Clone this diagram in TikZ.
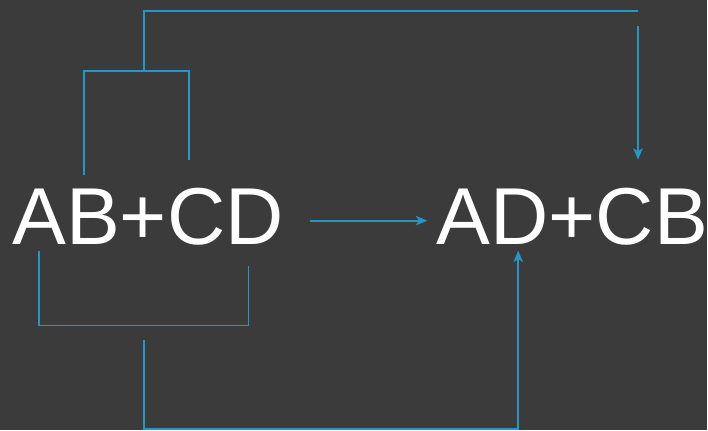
\documentclass[tikz,border=0pt]{standalone}
\usepackage{fontspec}
\setmainfont{Liberation Sans}
\usetikzlibrary{arrows.meta}
\definecolor{bgdark}{HTML}{3B3B3B}
\definecolor{swapblue}{HTML}{2497C3}

\begin{document}
\begin{tikzpicture}[x=0.02cm,y=-0.02cm,>=Stealth,
  term/.style={text=white,font=\fontsize{46}{50}\selectfont,inner sep=0pt,anchor=base west},
  wire/.style={draw=swapblue,line width=1pt},
  tip/.style={-{Stealth[length=2.3mm,width=1.9mm,inset=0.6mm]}}]
\fill[bgdark] (0,0) rectangle (708,431);
\node[term] (lhs) at (12,245) {AB+CD};
\node[term] (rhs) at (437,245) {AD+CB};
% top bracket
\coordinate (ta) at (84,175);
\coordinate (tb) at (189,160);
\coordinate (tm) at (144,71);
\coordinate (tr) at (639,11);
\coordinate (ts) at (639,26);
\coordinate (te) at (639,160);
\draw[wire] (ta) |- (tm) -| (tb);
\draw[wire] (tm) |- (tr);
\draw[wire,tip] (ts) -- (te);
% bottom bracket
\coordinate (ba) at (39,251);
\coordinate (bb) at (249,266);
\coordinate (bm) at (144,326);
\coordinate (bs) at (144,341);
\coordinate (bc) at (144,430);
\coordinate (be) at (519,251);
\draw[wire] (ba) |- (bm) -| (bb);
\draw[wire,tip] (bs) -- (bc) -| (be);
% reaction arrow
\coordinate (ms) at (310,221);
\coordinate (me) at (428,221);
\draw[wire,tip] (ms) -- (me);
\end{tikzpicture}
\end{document}
